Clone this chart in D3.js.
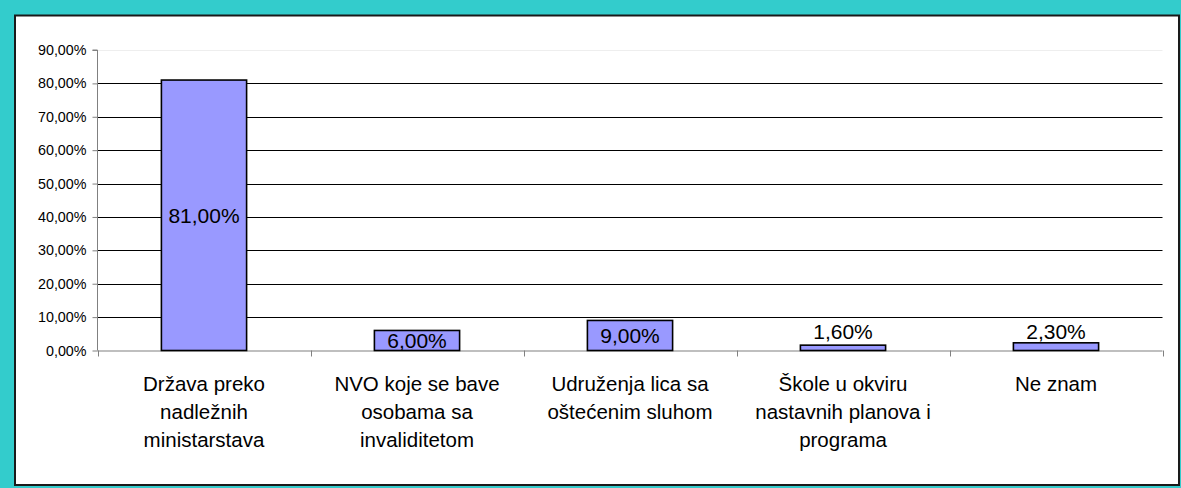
<!DOCTYPE html>
<html>
<head>
<meta charset="utf-8">
<script src="https://cdn.jsdelivr.net/npm/d3@7"></script>
<style>
html,body{margin:0;padding:0;background:#33CCCC;}
svg{display:block;font-family:Arial,"Liberation Sans",sans-serif;}
</style>
</head>
<body>
<svg id="chart" width="1181" height="488"></svg>
<script>
const categories = [
  "Država preko nadležnih ministarstava",
  "NVO koje se bave osobama sa invaliditetom",
  "Udruženja lica sa oštećenim sluhom",
  "Škole u okviru nastavnih planova i programa",
  "Ne znam"
];
const categoryLines = [
  ["Država preko", "nadležnih", "ministarstava"],
  ["NVO koje se bave", "osobama sa", "invaliditetom"],
  ["Udruženja lica sa", "oštećenim sluhom"],
  ["Škole u okviru", "nastavnih planova i", "programa"],
  ["Ne znam"]
];
const values = [81.0, 6.0, 9.0, 1.6, 2.3];
const valueLabels = ["81,00%", "6,00%", "9,00%", "1,60%", "2,30%"];
const yTicks = [0, 10, 20, 30, 40, 50, 60, 70, 80, 90];
const yTickLabels = ["0,00%", "10,00%", "20,00%", "30,00%", "40,00%", "50,00%", "60,00%", "70,00%", "80,00%", "90,00%"];

const svg = d3.select("#chart");
svg.append("rect").attr("x", 0).attr("y", 0).attr("width", 1181).attr("height", 488).attr("fill", "#33CCCC");
svg.append("rect").attr("x", 15).attr("y", 15.5).attr("width", 1164).attr("height", 469.5)
  .attr("fill", "#ffffff").attr("stroke", "#1a1a1a").attr("stroke-width", 2);

const pLeft = 97.5, pRight = 1162.5, pTop = 50, pBottom = 350.5;
const x = d3.scaleBand().domain(categories).range([pLeft, pRight]).paddingInner(0.6).paddingOuter(0.3);
const y = d3.scaleLinear().domain([0, 90]).range([pBottom, pTop]);

// gridlines
svg.append("g").selectAll("line").data(yTicks.filter(t => t > 0)).join("line")
  .attr("x1", pLeft).attr("x2", pRight)
  .attr("y1", d => Math.round(y(d)) + 0.5).attr("y2", d => Math.round(y(d)) + 0.5)
  .attr("stroke", d => d === 90 ? "#eeeeee" : "#000000").attr("stroke-width", 1);

// y axis
const yAxis = d3.axisLeft(y).tickValues(yTicks).tickSize(5).tickPadding(6)
  .tickFormat((d, i) => yTickLabels[i]);
const gy = svg.append("g").attr("transform", `translate(${pLeft},0)`).call(yAxis);
gy.select(".domain").attr("stroke", "#808080").attr("d", `M-5,${pTop}H0V${pBottom}`);
gy.selectAll(".tick line").attr("stroke", "#808080");
gy.selectAll(".tick text").attr("font-size", "14.3px").attr("fill", "#000").attr("font-family", "Arial, 'Liberation Sans', sans-serif");

// x axis
const step = x.step();
const bounds = d3.range(categories.length + 1).map(i => pLeft + i * step);
svg.append("line").attr("x1", pLeft).attr("x2", pRight).attr("y1", pBottom + 0.5).attr("y2", pBottom + 0.5)
  .attr("stroke", "#808080").attr("stroke-width", 1.2);
svg.append("g").selectAll("line").data(bounds).join("line")
  .attr("x1", d => Math.round(d) + 0.5).attr("x2", d => Math.round(d) + 0.5)
  .attr("y1", pBottom).attr("y2", pBottom + 6)
  .attr("stroke", "#808080");

// bars
svg.append("g").selectAll("rect").data(values).join("rect")
  .attr("x", (d, i) => x(categories[i]))
  .attr("y", d => y(d))
  .attr("width", x.bandwidth())
  .attr("height", d => pBottom - y(d))
  .attr("fill", "#9999FF").attr("stroke", "#000").attr("stroke-width", 1.6);

// value labels
const lblSize = 21;
svg.append("g").selectAll("text").data(values).join("text")
  .attr("x", (d, i) => x(categories[i]) + x.bandwidth() / 2)
  .attr("y", d => {
    const h = pBottom - y(d);
    if (h < 15) return pBottom - 12;
    return (y(d) + pBottom) / 2 + 0.36 * lblSize;
  })
  .attr("text-anchor", "middle").attr("font-size", lblSize + "px").attr("fill", "#000")
  .text((d, i) => valueLabels[i]);

// category labels
const catSize = 20.5, lineH = 28;
const cg = svg.append("g").selectAll("text").data(categoryLines).join("text")
  .attr("x", (d, i) => x(categories[i]) + x.bandwidth() / 2)
  .attr("y", 391)
  .attr("text-anchor", "middle").attr("font-size", catSize + "px").attr("fill", "#000");
cg.selectAll("tspan").data(d => d).join("tspan")
  .attr("x", function() { return d3.select(this.parentNode).attr("x"); })
  .attr("dy", (d, i) => i === 0 ? 0 : lineH)
  .text(d => d);
</script>
</body>
</html>
